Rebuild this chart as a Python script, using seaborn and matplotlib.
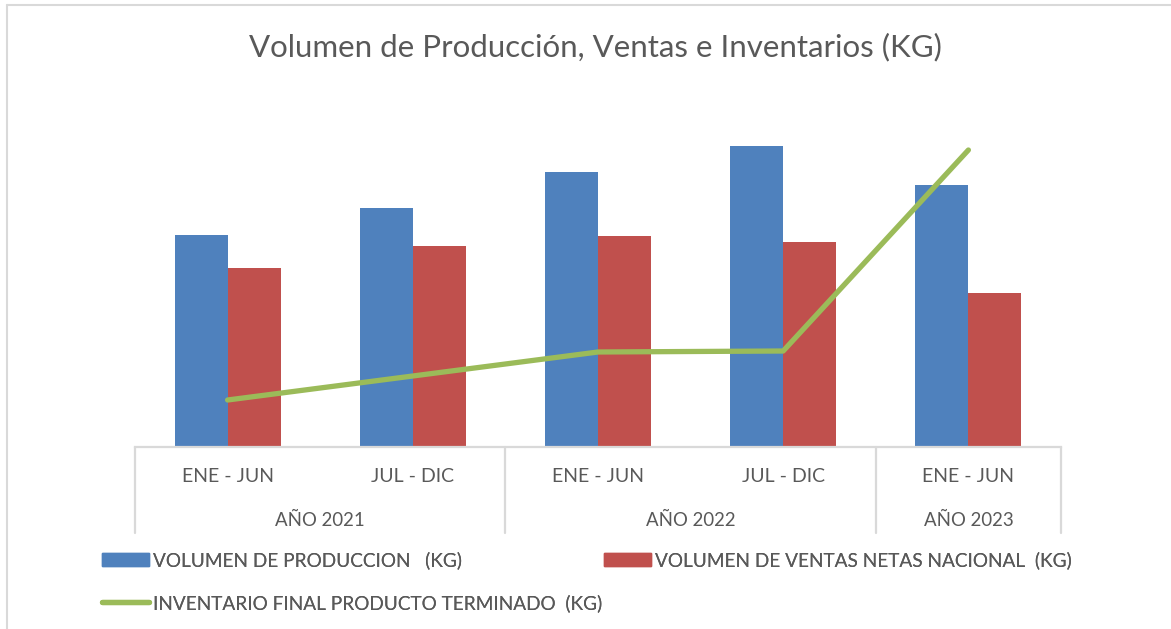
import matplotlib.pyplot as plt
import matplotlib.transforms as mtransforms
from matplotlib.lines import Line2D
from matplotlib.patches import Patch
import numpy as np
import pandas as pd
import seaborn as sns

# datos (unidades relativas, sin eje Y visible)
periodos = ['ENE - JUN', 'JUL - DIC', 'ENE - JUN', 'JUL - DIC', 'ENE - JUN']
anios = ['AÑO 2021', 'AÑO 2022', 'AÑO 2023']
anio_de_periodo = ['AÑO 2021', 'AÑO 2021', 'AÑO 2022', 'AÑO 2022', 'AÑO 2023']
produccion = [212, 239, 275, 301, 262]
ventas = [179, 201, 211, 205, 154]
inventario = [47, 71, 95, 96, 297]

serie_prod = 'VOLUMEN DE PRODUCCION   (KG)'
serie_ventas = 'VOLUMEN DE VENTAS NETAS NACIONAL  (KG)'
serie_inv = 'INVENTARIO FINAL PRODUCTO TERMINADO  (KG)'

azul = '#4F81BD'
rojo = '#C0504D'
verde = '#9BBB59'
gris_txt = '#595959'
gris_linea = '#D9D9D9'

claves = [f'{a} {p}' for a, p in zip(anio_de_periodo, periodos)]
df = pd.DataFrame({
    'clave': claves * 2,
    'valor': produccion + ventas,
    'serie': [serie_prod] * len(claves) + [serie_ventas] * len(claves),
})

sns.set_style('white')
plt.rcParams['font.family'] = ['Lato', 'DejaVu Sans']

fig = plt.figure(figsize=(11.71, 6.29), dpi=100)
W, H = 1171, 629
ax = fig.add_axes([135 / W, 1 - 447 / H, (1061 - 135) / W, (447 - 110) / H])

sns.barplot(data=df, x='clave', y='valor', hue='serie', order=claves,
            palette=[azul, rojo], width=0.573, saturation=1, ax=ax,
            legend=False, edgecolor='none')
x_pos = np.arange(len(claves))
sns.lineplot(x=x_pos, y=inventario, color=verde, linewidth=3.8, ax=ax,
             legend=False)
for l in ax.lines:
    l.set_solid_capstyle('round')

ax.set_xlim(-0.5, len(claves) - 0.5)
ax.set_ylim(0, 337)
ax.set_xlabel('')
ax.set_ylabel('')
ax.set_yticks([])
ax.set_xticks([])
for s in ['top', 'right', 'left']:
    ax.spines[s].set_visible(False)
ax.spines['bottom'].set_color(gris_linea)
ax.spines['bottom'].set_linewidth(1.6)

# eje de categorias en dos niveles
trans = mtransforms.blended_transform_factory(ax.transData, fig.transFigure)
for i, p in enumerate(periodos):
    ax.text(i, 1 - 477 / H, p, transform=trans, ha='center', va='center',
            fontsize=14, color=gris_txt)
limites = [-0.5]
for a in anios:
    idx = [i for i, x in enumerate(anio_de_periodo) if x == a]
    ax.text((idx[0] + idx[-1]) / 2, 1 - 520 / H, a, transform=trans,
            ha='center', va='center', fontsize=13.4, color=gris_txt)
    limites.append(idx[-1] + 0.5)
for b in limites:
    ax.add_line(Line2D([b, b], [1 - 447 / H, 1 - 533 / H], transform=trans,
                       color=gris_linea, linewidth=1.6, clip_on=False))

fig.suptitle('Volumen de Producción, Ventas e Inventarios (KG)',
             x=595 / W, y=1 - 47 / H, va='center', fontsize=22.5,
             color=gris_txt)

# leyenda
kw = dict(loc='center left', frameon=False, borderpad=0, borderaxespad=0,
          handlelength=2.45, handleheight=0.7, handletextpad=0.22,
          fontsize=13.7, labelcolor=gris_txt)
items = [
    (Patch(color=azul), serie_prod, 102, 560),
    (Patch(color=rojo), serie_ventas, 604, 560),
    (Line2D([], [], color=verde, linewidth=3.8, solid_capstyle='round'), serie_inv, 102, 603),
]
for h, lab, px, py in items:
    leg = fig.legend([h], [lab], bbox_to_anchor=(px / W, 1 - py / H), **kw)
    fig.add_artist(leg)

# borde del area del grafico
fig.add_artist(Line2D([7 / W, 7 / W], [0, 1 - 5 / H], transform=fig.transFigure,
                      color=gris_linea, linewidth=1.5))
fig.add_artist(Line2D([7 / W, 1], [1 - 5 / H, 1 - 5 / H], transform=fig.transFigure,
                      color=gris_linea, linewidth=1.5))

fig.savefig('out.png', dpi=100)
